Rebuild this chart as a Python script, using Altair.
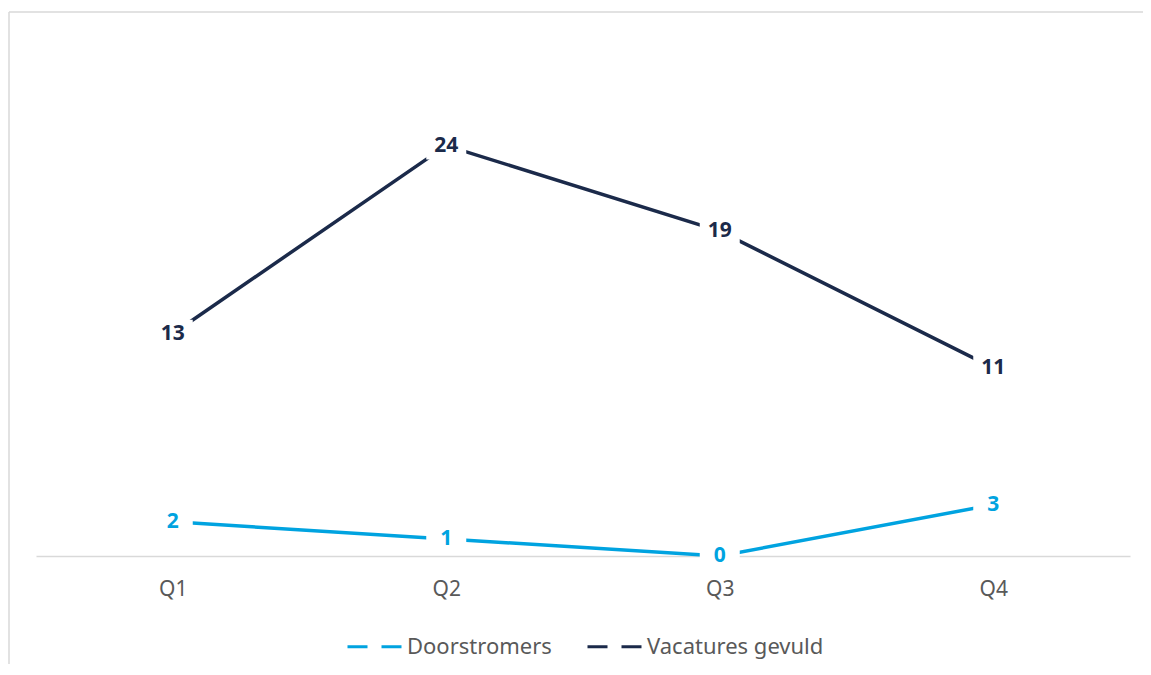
import altair as alt
import pandas as pd

quarters = ["Q1", "Q2", "Q3", "Q4"]
series_names = ["Doorstromers", "Vacatures gevuld"]
doorstromers = [2, 1, 0, 3]
vacatures = [13, 24, 19, 11]
colors = ["#00a3e0", "#1b2a4a"]

rows = []
for q, v in zip(quarters, doorstromers):
    rows.append({"kwartaal": q, "serie": series_names[0], "waarde": v})
for q, v in zip(quarters, vacatures):
    rows.append({"kwartaal": q, "serie": series_names[1], "waarde": v})
df = pd.DataFrame(rows)

W, H = 1094, 513
TOP = 35
FONT = "Noto Sans"

x_enc = alt.X("kwartaal:N", sort=quarters,
              scale=alt.Scale(type="point", padding=0.5, domain=quarters),
              axis=alt.Axis(title=None, labelAngle=0, ticks=False, grid=False,
                            domainColor="#d9d9d9", domainWidth=1.5,
                            labelColor="#595959", labelFontSize=21, labelFont=FONT,
                            labelPadding=22))
y_enc = alt.Y("waarde:Q", scale=alt.Scale(domain=[0, 30], nice=False, zero=True), axis=None)
color_scale = alt.Scale(domain=series_names, range=colors)

base = alt.Chart(df)

lines = base.mark_line(strokeWidth=3.5).encode(
    x=x_enc, y=y_enc,
    color=alt.Color("serie:N", scale=color_scale, sort=series_names,
                    legend=alt.Legend(title=None, orient="none", direction="horizontal",
                                      legendX=310, legendY=645 - 8 - TOP - 27, padding=0,
                                      symbolType="stroke", symbolSize=2916,
                                      symbolStrokeWidth=3, symbolDash=[20, 14],
                                      labelFontSize=22, labelFont=FONT, labelColor="#595959",
                                      labelOffset=4, columnPadding=29, labelLimit=0)),
)

boxes = base.mark_point(filled=True, opacity=1,
                        shape="M-1,-0.7L1,-0.7L1,0.7L-1,0.7Z",
                        size=1600, color="white", strokeWidth=0).encode(x=x_enc, y=y_enc)

labels = base.mark_text(fontSize=21, fontWeight="bold", font=FONT, baseline="middle", dy=0).encode(
    x=x_enc, y=y_enc, text="waarde:Q",
    color=alt.Color("serie:N", scale=color_scale, legend=None),
)

border_left = alt.Chart(pd.DataFrame({"a": [0]})).mark_rule(color="#d9d9d9", strokeWidth=1.5).encode(
    x=alt.value(-27), y=alt.value(-(TOP - 4)), y2=alt.value(H + 140))
border_top = alt.Chart(pd.DataFrame({"a": [0]})).mark_rule(color="#d9d9d9", strokeWidth=1.5).encode(
    x=alt.value(-27), x2=alt.value(W + 13), y=alt.value(-(TOP - 4)))

chart = alt.layer(border_left, border_top, lines, boxes, labels).properties(
    width=W, height=H,
    autosize=alt.AutoSizeParams(type="none"),
    padding={"left": 28, "top": TOP, "right": 13, "bottom": 108},
).configure_view(stroke=None)

chart.save("out.html", embed_options={"renderer": "svg", "actions": False})
